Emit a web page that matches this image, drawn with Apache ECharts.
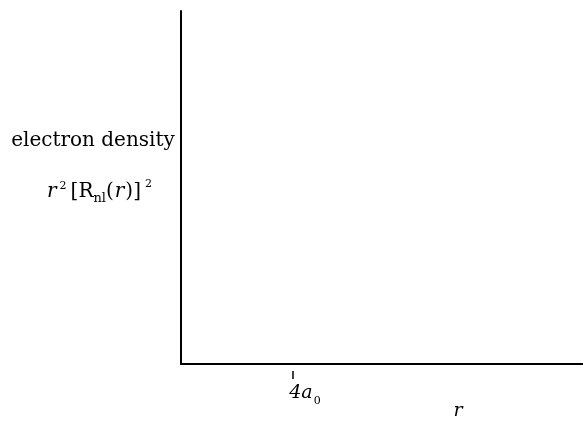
<!DOCTYPE html>
<html>
<head>
<meta charset="utf-8">
<style>html,body{margin:0;padding:0;background:#fff}#c{width:583px;height:421px}</style>
<script src="https://cdn.jsdelivr.net/npm/echarts@6/dist/echarts.min.js"></script>
</head>
<body>
<div id="c"></div>
<script>
// ---- data ----
const xMin = 0;
const xMax = 14.36;           // axis range in units of a0
const yMin = 0;
const yMax = 1;
const xTickValues = [4];
const xTickMain = ['4a'];
const xTickSub = ['0'];
const xAxisName = 'r';
const yAxisTitle = 'electron density';
const yAxisFormula = ['r', '2', '[R', 'nl', '(', 'r', ')]', '2'];

const serif = 'DejaVu Serif';
const chart = echarts.init(document.getElementById('c'), null, {renderer: 'canvas'});

const option = {
  animation: false,
  backgroundColor: '#fff',
  grid: {left: 181, right: 0, top: 11, bottom: 57},
  xAxis: [
    {
      type: 'value', min: xMin, max: xMax,
      axisLine: {show: true, lineStyle: {color: '#000', width: 2}},
      axisTick: {show: false}, axisLabel: {show: false}, splitLine: {show: false}
    },
    {
      type: 'value', min: xMin, max: xMax, position: 'bottom', offset: 7,
      axisLine: {show: false},
      axisTick: {show: true, length: 8, customValues: xTickValues, lineStyle: {color: '#000', width: 1.5}},
      axisLabel: {
        show: true, customValues: xTickValues, margin: 10,
        formatter: function (v) {
          const i = xTickValues.indexOf(v);
          if (i < 0) return '';
          return '{m|' + xTickMain[i] + '}{s|' + xTickSub[i] + '}';
        },
        padding: [0, 0, 0, 24],
        rich: {
          m: {fontFamily: serif, fontStyle: 'italic', fontSize: 19, color: '#000', lineHeight: 22, verticalAlign: 'bottom'},
          s: {fontFamily: serif, fontSize: 11, color: '#000', lineHeight: 22, verticalAlign: 'bottom', padding: [0, 0, -4, 1]}
        }
      },
      splitLine: {show: false}
    }
  ],
  yAxis: {
    type: 'value', min: yMin, max: yMax,
    axisLine: {show: true, onZero: false, lineStyle: {color: '#000', width: 2}},
    axisTick: {show: false}, axisLabel: {show: false}, splitLine: {show: false}
  },
  series: [{type: 'line', xAxisIndex: 0, data: []}],
  graphic: [
    {
      type: 'text', silent: true,
      style: {
        x: 93, y: 141, text: yAxisTitle, align: 'center', verticalAlign: 'middle',
        font: '20px "' + serif + '"', fill: '#000'
      }
    },
    {
      type: 'text', silent: true,
      style: {
        x: 99, y: 192, align: 'center', verticalAlign: 'middle',
        text: '{ri|' + yAxisFormula[0] + '}{sup|' + yAxisFormula[1] + '}{n|' + yAxisFormula[2] + '}{sub|' + yAxisFormula[3] + '}{n|' + yAxisFormula[4] + '}{ri|' + yAxisFormula[5] + '}{n|' + yAxisFormula[6] + '}{sup2|' + yAxisFormula[7] + '}',
        rich: {
          ri: {font: 'italic 20px "' + serif + '"', fill: '#000', lineHeight: 26, verticalAlign: 'middle', padding: [0, 1, 0, 1]},
          n: {font: '20px "' + serif + '"', fill: '#000', lineHeight: 26, verticalAlign: 'middle'},
          sup: {font: '11px "' + serif + '"', fill: '#000', lineHeight: 11, verticalAlign: 'top', padding: [2, 4, 0, 2]},
          sup2: {font: '11px "' + serif + '"', fill: '#000', lineHeight: 11, verticalAlign: 'top', padding: [0, 0, 0, 4]},
          sub: {font: '13px "' + serif + '"', fill: '#000', lineHeight: 12, verticalAlign: 'bottom'}
        }
      }
    },
    {
      type: 'text', silent: true,
      style: {
        x: 458, y: 411, text: xAxisName, align: 'center', verticalAlign: 'middle',
        font: 'italic 19px "' + serif + '"', fill: '#000'
      }
    }
  ]
};
chart.setOption(option);
</script>
</body>
</html>
